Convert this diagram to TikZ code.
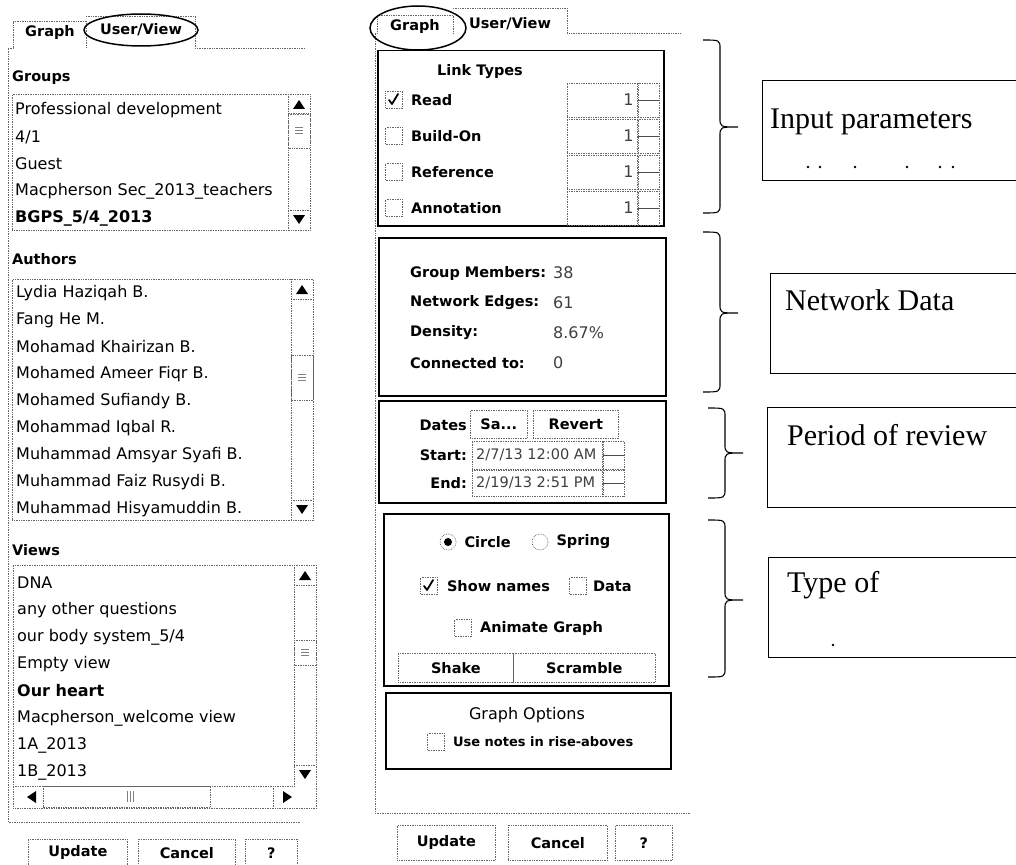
\documentclass[tikz,border=0pt]{standalone}
\usepackage{fontspec}
\setmainfont{DejaVu Sans}
\newfontfamily\notefont{Liberation Serif}
\usetikzlibrary{positioning,shapes.geometric}

% curly bracket: #1 left x, #2 top, #3 tip, #4 bottom
\newcommand{\secbrace}[4]{%
  \draw[sbrace] (#1,#2) .. controls ({#1+17},#2) .. ({#1+17},{#2+9})
    -- ({#1+17},{#3-9}) .. controls ({#1+17},#3) .. ({#1+35},#3)
    .. controls ({#1+17},#3) .. ({#1+17},{#3+9})
    -- ({#1+17},{#4-9}) .. controls ({#1+17},#4) .. (#1,#4);}

\begin{document}
\begin{tikzpicture}[
    x=1pt, y=-1pt,
    ui/.style={inner sep=0pt, font=\fontsize{16}{19}\selectfont},
    item/.style={ui, anchor=west},
    head/.style={item, font=\fontsize{14.5}{18}\selectfont\bfseries},
    val/.style={item, text=black!75},
    dotframe/.style={draw=black!60, densely dotted, line width=0.7pt},
    listbox/.style={dotframe, rectangle, anchor=north west, inner sep=0pt},
    groupbox/.style={draw, line width=1.5pt, rectangle, anchor=north west, inner sep=0pt},
    chkbox/.style={dotframe, rectangle, minimum size=17pt, inner sep=0pt},
    radio/.style={dotframe, circle, minimum size=16pt, inner sep=0pt},
    uibtn/.style={dotframe, rectangle, anchor=north west, inner sep=0pt, font=\fontsize{14.5}{18}\selectfont\bfseries},
    checkmark/.style={line width=1.8pt, line cap=round, line join=round},
    ring/.style={line width=1.5pt},
    notebox/.style={line width=0.8pt},
    note/.style={anchor=west, inner sep=0pt, font=\notefont\fontsize{30}{34}\selectfont},
    sbrace/.style={line width=1.1pt},
]
\useasboundingbox (0,0) rectangle (1016,864);
\fill[white] (0,0) rectangle (1016,864);

% ====== User/View panel ======
\draw[dotframe] (300,822) -- (8,822) -- (8,48) -- (13,48) -- (13,21) -- (86,21) -- (86,48);
\draw[dotframe] (86,16) -- (195,16) -- (195,48) -- (305,48);
\node[head, anchor=center] (tabGraphL) at (50,33) {Graph};
\node[head, anchor=center] (tabUserL) at (141,30) {User/View};
\draw[ring] (tabUserL.center) ellipse [x radius=57pt, y radius=16pt];

% groups
\node[head] (grpHead) at (12,78) {Groups};
\node[listbox, minimum width=298pt, minimum height=136pt] (grpList) at (12,94) {};
\foreach \name [count=\i] in {Professional development, {4/1}, Guest,
    Macpherson Sec\_2013\_teachers, \textbf{BGPS\_5/4\_2013}}
  \node[item] (grp\i) at (15,{83+27*\i}) {\name};

% authors
\node[head] (authHead) at (12,259) {Authors};
\node[listbox, minimum width=301pt, minimum height=241pt] (authList) at (12,279) {};
\foreach \name [count=\i] in {Lydia Haziqah B., Fang He M., Mohamad Khairizan B.,
    Mohamed Ameer Fiqr B., Mohamed Sufiandy B., Mohammad Iqbal R.,
    Muhammad Amsyar Syafi B., Muhammad Faiz Rusydi B., Muhammad Hisyamuddin B.}
  \node[item] (auth\i) at (16,{266+27*\i}) {\name};

% views
\node[head] (viewHead) at (12,550) {Views};
\node[listbox, minimum width=303pt, minimum height=243pt] (viewList) at (13,565) {};
\foreach \name [count=\i] in {DNA, any other questions, our body system\_5/4, Empty view,
    \textbf{Our heart}, Macpherson\_welcome view, 1A\_2013, 1B\_2013}
  \node[item] (view\i) at (17,{556+27*\i}) {\name};

% vertical scroll bars
\foreach \sx/\st/\sb/\ta/\tb in {288/94/230/113/148, 291/279/520/355/400, 294/565/785/640/665} {
  \draw[dotframe] (\sx,\st) -- (\sx,\sb);
  \draw[dotframe] (\sx,{\st+20}) -- ++(22,0);
  \draw[dotframe] (\sx,{\sb-20}) -- ++(22,0);
  \draw[dotframe] (\sx,\ta) rectangle ++(22,{\tb-\ta});
  \foreach \gy in {-3,0,3}
    \draw[black!50] ({\sx+7},{(\ta+\tb)/2+\gy}) -- ++(8,0);
  \fill ({\sx+11},{\st+6}) -- ++(6,9) -- ++(-12,0) -- cycle;
  \fill ({\sx+11},{\sb-6}) -- ++(6,-9) -- ++(-12,0) -- cycle;
}

% horizontal scroll bar of the views list
\draw[dotframe] (13,786) -- (294,786);
\draw[dotframe] (43,786) rectangle (210,807);
\draw[dotframe] (273,786) -- (273,807);
\foreach \gx in {127,130,133}
  \draw[black!50] (\gx,791) -- ++(0,11);
\fill (27,797) -- ++(9,-6) -- ++(0,12) -- cycle;
\fill (292,797) -- ++(-9,-6) -- ++(0,12) -- cycle;

% buttons
\node[uibtn, minimum width=99pt, minimum height=27pt] (updL) at (28,839) {Update};
\node[uibtn, minimum width=97pt, minimum height=27pt] (canL) at (138,839) {Cancel};
\node[uibtn, minimum width=52pt, minimum height=27pt] (helpL) at (245,839) {?};

% ====== Graph panel ======
\draw[dotframe] (690,813) -- (375,813) -- (375,33) -- (377,33) -- (377,15) -- (453,15) -- (453,33);
\draw[dotframe] (453,8) -- (567,8) -- (567,33) -- (680,33);
\node[head, anchor=center] (tabGraphR) at (415,27) {Graph};
\node[head, anchor=center] (tabUserR) at (510,24) {User/View};
\draw[ring] (418,28) ellipse [x radius=48pt, y radius=22pt];

% link types
\node[groupbox, minimum width=286pt, minimum height=175pt] (linkBox) at (377,50) {};
\node[head, anchor=center] (linkHead) at (480,72) {Link Types};
\foreach \name [count=\i] in {Read, Build-On, Reference, Annotation} {
  \node[chkbox] (lnkBox\i) at (394,{64+36*\i}) {};
  \node[head, right=8pt of lnkBox\i] (lnk\i) {\name};
  \node[listbox, minimum width=70pt, minimum height=34pt, anchor=west] (lnkField\i) at (567,{64+36*\i}) {};
  \node[val, anchor=east] (lnkVal\i) at ([xshift=-4pt]lnkField\i.east) {1};
  \node[dotframe, rectangle, inner sep=0pt, minimum width=21pt, minimum height=34pt, anchor=west] (lnkSpin\i) at (lnkField\i.east) {};
  \draw[black!70] (lnkSpin\i.west) -- (lnkSpin\i.east);
}
\draw[checkmark] ([shift={(-5,0)}]lnkBox1.center) -- ++(3,4) -- ++(6,-10);

% network data
\node[groupbox, minimum width=287pt, minimum height=158pt] (netBox) at (378,237) {};
\foreach \name/\v [count=\i] in {Group Members:/38, Network Edges:/61, Density:/8.67\%, Connected to:/0} {
  \node[head] (net\i) at (410,{243+30*\i}) {\name};
  \node[val] (netVal\i) at (553,{243+30*\i}) {\v};
}

% dates
\node[groupbox, minimum width=287pt, minimum height=102pt] (dateBox) at (378,400) {};
\node[head, anchor=east] (dLbl) at (467,425) {Dates};
\node[uibtn, minimum width=57pt, minimum height=28pt] (dSave) at (470,410) {Sa...};
\node[uibtn, minimum width=85pt, minimum height=28pt] (dRevert) at (533,410) {Revert};
\node[head, anchor=east] (dStart) at (467,455) {Start:};
\node[listbox, minimum width=130pt, minimum height=28pt, anchor=west] (dStartField) at (472,455) {};
\node[val, font=\fontsize{14.5}{17}\selectfont] (dStartVal) at ([xshift=4pt]dStartField.west) {2/7/13 12:00 AM};
\node[dotframe, rectangle, inner sep=0pt, minimum width=21pt, minimum height=28pt, anchor=west] (dStartSpin) at (dStartField.east) {};
\draw[black!70] (dStartSpin.west) -- (dStartSpin.east);
\node[head, anchor=east] (dEnd) at (467,483) {End:};
\node[listbox, minimum width=130pt, minimum height=26pt, anchor=west] (dEndField) at (472,483) {};
\node[val, font=\fontsize{14.5}{17}\selectfont] (dEndVal) at ([xshift=4pt]dEndField.west) {2/19/13 2:51 PM};
\node[dotframe, rectangle, inner sep=0pt, minimum width=21pt, minimum height=26pt, anchor=west] (dEndSpin) at (dEndField.east) {};
\draw[black!70] (dEndSpin.west) -- (dEndSpin.east);

% layout
\node[groupbox, minimum width=285pt, minimum height=172pt] (layBox) at (383,513) {};
\node[radio] (rCircle) at (448,542) {};
\fill (rCircle.center) circle (4pt);
\node[head, right=8pt of rCircle] (tCircle) {Circle};
\node[radio] (rSpring) at (540,542) {};
\node[head, right=8pt of rSpring] (tSpring) {Spring};
\node[chkbox] (cbNames) at (429,586) {};
\draw[checkmark] ([shift={(-5,0)}]cbNames.center) -- ++(3,4) -- ++(6,-10);
\node[head, right=9pt of cbNames] (tNames) {Show names};
\node[chkbox] (cbData) at (578,586) {};
\node[head, right=6pt of cbData] (tData) {Data};
\node[chkbox] (cbAnim) at (463,628) {};
\node[head, right=8pt of cbAnim] (tAnim) {Animate Graph};
\node[uibtn, minimum width=115pt, minimum height=29pt] (bShake) at (398,653) {Shake};
\node[uibtn, minimum width=142pt, minimum height=29pt] (bScramble) at (513,653) {Scramble};

% graph options
\node[groupbox, minimum width=285pt, minimum height=76pt] (optBox) at (385,692) {};
\node[ui] (optHead) at (527,715) {Graph Options};
\node[chkbox] (cbNotes) at (436,742) {};
\node[item, right=8pt of cbNotes, font=\fontsize{13}{15}\selectfont\bfseries] (tNotes) {Use notes in rise-aboves};

% buttons
\node[uibtn, minimum width=98pt, minimum height=35pt] (updR) at (397,825) {Update};
\node[uibtn, minimum width=99pt, minimum height=35pt] (canR) at (508,825) {Cancel};
\node[uibtn, minimum width=57pt, minimum height=35pt] (helpR) at (615,825) {?};

% ====== Notes ======
\secbrace{703}{40}{127}{213}
\draw[notebox] (1016,80) -- (762,80) -- (762,180) -- (1016,180);
\node[note] (nInput) at (770,122) {Input parameters};
\foreach \dx in {808,820,855,907,940,953}
  \fill (\dx,167) circle (1.4pt);

\secbrace{703}{232}{313}{392}
\draw[notebox] (1016,273) -- (770,273) -- (770,373) -- (1016,373);
\node[note] (nNet) at (785,300) {Network Data};

\secbrace{708}{408}{453}{498}
\draw[notebox] (1016,407) -- (767,407) -- (767,507) -- (1016,507);
\node[note] (nPeriod) at (787,435) {Period of review};

\secbrace{708}{520}{600}{677}
\draw[notebox] (1016,557) -- (768,557) -- (768,657) -- (1016,657);
\node[note] (nType) at (787,585) {Type of};
\fill (833,645) circle (1.4pt);

\end{tikzpicture}
\end{document}
